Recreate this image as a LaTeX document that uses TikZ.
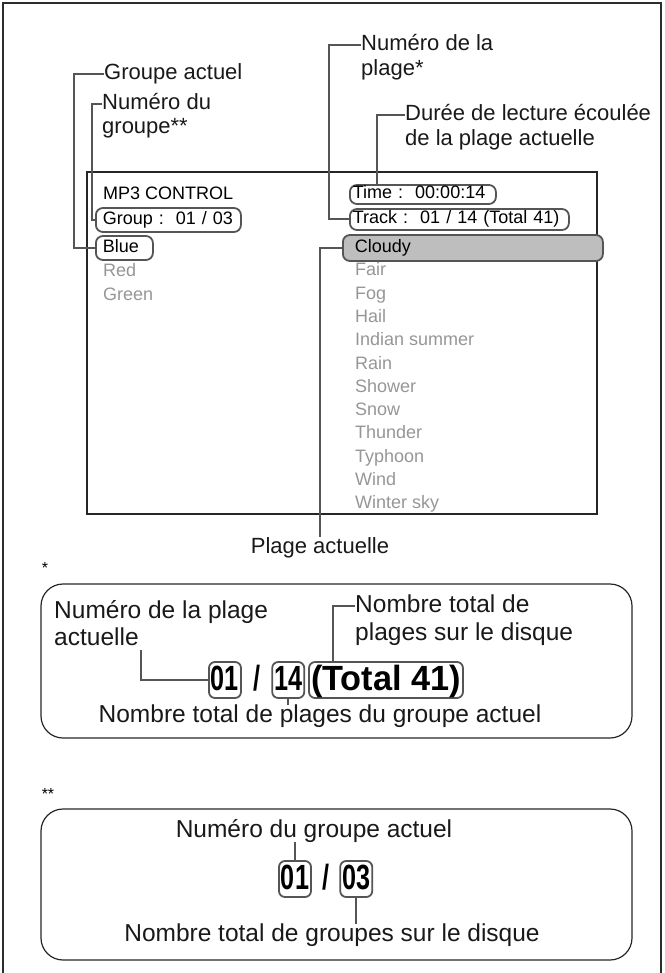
\documentclass[tikz,border=0pt]{standalone}
\usepackage{fontspec}
\setmainfont{Liberation Sans}
\newfontfamily\numfont[FakeStretch=0.72]{Liberation Sans}
\newfontfamily\totfont[FakeStretch=0.98]{Liberation Sans}
\usetikzlibrary{positioning}
\definecolor{myframe}{RGB}{45,45,45}
\definecolor{myleader}{RGB}{85,85,85}
\definecolor{mygreytext}{RGB}{150,150,150}
\definecolor{myhighlight}{RGB}{190,190,190}

\begin{document}
\begin{tikzpicture}[x=1pt, y=-1pt,
    lbl/.style={font=\fontsize{22}{26}\selectfont, inner sep=0pt, anchor=west, text height=16pt, text depth=4pt, text=black!90},
    boxlbl/.style={lbl, font=\fontsize{24.5}{28}\selectfont, text height=17pt, text depth=5pt},
    scr/.style={font=\fontsize{18}{21}\selectfont, inner sep=0pt, anchor=west, text height=13pt, text depth=4pt},
    hlbox/.style={draw=myleader, line width=1.8pt, rounded corners=7pt, anchor=west, align=left,
        font=\fontsize{18}{21}\selectfont, text height=13pt, text depth=4pt, inner ysep=2pt},
    numbox/.style={draw=myleader, line width=1.8pt, rounded corners=6pt, inner xsep=2pt, inner ysep=0pt,
        minimum height=36pt, font=\numfont\bfseries\fontsize{35}{38}\selectfont, text height=25pt, text depth=5pt},
    numtxt/.style={inner sep=0pt, font=\numfont\bfseries\fontsize{35}{38}\selectfont, text height=25pt, text depth=5pt},
    leader/.style={draw=myleader, line width=2pt}]
\useasboundingbox (0,0) rectangle (664,973);

% Frame
\draw[myframe, line width=2.5pt] (3,973) -- (3,3) -- (661,3) -- (661,973);

% Screen
\draw[black!85, line width=1.2pt] (87,172) rectangle (597,514);
\node[scr] (title) at (103,195) {MP3 CONTROL};
\node[hlbox, inner xsep=7pt, text width=131pt, minimum height=24pt] (grp) at (95,220) {Group :\ \ 01 / 03};
\node[hlbox, inner xsep=7pt, text width=43pt, minimum height=24pt] (blue) at (95,248) {Blue};
\foreach \grpname [count=\i from 1] in {Red, Green} {
    \node[scr, text=mygreytext] (grp\i) at (103, 248+\i*24) {\grpname};
}
\node[hlbox, inner xsep=3pt, text width=140pt, minimum height=19pt, inner ysep=1pt] (time) at (349,194.5) {Time :\ \ 00:00:14};
\node[hlbox, inner xsep=3pt, text width=213pt, minimum height=21pt] (track) at (349,219.5) {Track :\ \ 01 / 14 (Total 41)};
\node[hlbox, fill=myhighlight, inner xsep=12pt, text width=236pt, minimum height=26pt] (cloudy) at (342,248) {Cloudy};
\foreach \trk [count=\i from 1] in {Fair, Fog, Hail, Indian summer, Rain, Shower, Snow, Thunder, Typhoon, Wind, Winter sky} {
    \node[scr, text=mygreytext] (trk\i) at (355, 248+\i*23.3) {\trk};
}

% Labels of the screen
\node[lbl] (grpact) at (104,74) {Groupe actuel};
\node[lbl] (grpnum) at (102,104) {Numéro du};
\node[lbl] (grpnumb) at (102,128) {groupe**};
\node[lbl] (trknum) at (361,45) {Numéro de la};
\node[lbl] (trknumb) at (361,70) {plage*};
\node[lbl] (elapsed) at (405,115) {Durée de lecture écoulée};
\node[lbl] (elapsedb) at (405,140) {de la plage actuelle};
\node[lbl, anchor=center] (curtrk) at (320,547) {Plage actuelle};

\draw[leader] (grpact.west) -- ++(-30,0) |- (blue.west);
\draw[leader] (grpnum.west) -- ++(-10,0) |- (grp.west);
\draw[leader] (trknum.west) -- ++(-32,0) |- (track.west);
\draw[leader] (elapsed.west) -- ++(-28,0) coordinate (elbend) -- (elbend |- time.north);
\draw[leader] (curtrk.north) -- (curtrk.north |- cloudy.west) -- (cloudy.west);

% Track number detail
\node[font=\fontsize{16}{18}\selectfont, inner sep=0pt] (star) at (45,568) {*};
\draw[black!85, line width=1.2pt, rounded corners=22pt] (41,584) rectangle (632,738);
\node[boxlbl] (curnum) at (54,612) {Numéro de la plage};
\node[boxlbl] (curnumb) at (54,639) {actuelle};
\node[numbox] (trk01) at (225,680) {01};
\node[numtxt, right=11pt of trk01] (slash1) {/};
\node[numbox, right=11pt of slash1] (trk14) {14};
\node[numbox, right=3pt of trk14, font=\totfont\bfseries\fontsize{35}{38}\selectfont] (trktot) {(Total 41)};
\node[boxlbl] (totdisc) at (355,606) {Nombre total de};
\node[boxlbl] (totdiscb) at (355,634) {plages sur le disque};
\node[boxlbl, anchor=center] (totgrp) at (320,716) {Nombre total de plages du groupe actuel};

\draw[leader] (curnumb.south east) ++(2,0) |- (trk01.west);
\draw[leader] (totdisc.west) -- ++(-22,0) coordinate (totbend) -- (totbend |- trktot.north);
\draw[leader] (trk14.south) -- (trk14.south |- totgrp.north);

% Group number detail
\node[font=\fontsize{16}{18}\selectfont, inner sep=0pt] (stars) at (48,794) {**};
\draw[black!85, line width=1.2pt, rounded corners=22pt] (41,809) rectangle (632,960);
\node[boxlbl, anchor=center] (grpcur) at (314,831) {Numéro du groupe actuel};
\node[numbox] (grp01) at (295,879) {01};
\node[numtxt, right=10pt of grp01] (slash2) {/};
\node[numbox, right=10pt of slash2] (grp03) {03};
\node[boxlbl, anchor=center] (grptot) at (332,935) {Nombre total de groupes sur le disque};

\draw[leader] (grp01.north) -- (grp01.north |- grpcur.south);
\draw[leader] (grp03.south) -- (grp03.south |- grptot.north);
\end{tikzpicture}
\end{document}
